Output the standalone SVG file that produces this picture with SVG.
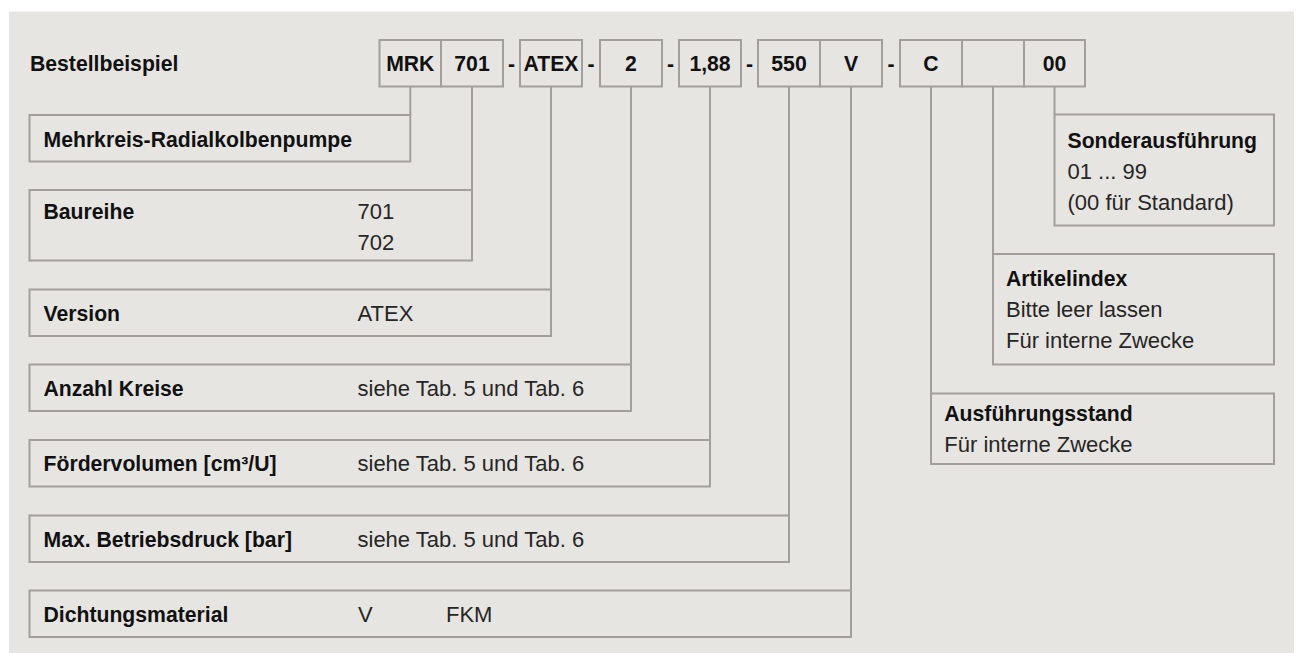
<svg xmlns="http://www.w3.org/2000/svg" width="1301" height="653" viewBox="0 0 1301 653">
<style>
.bx{fill:none;stroke:#a3a09b;stroke-width:2}
.ln{fill:none;stroke:#a3a09b;stroke-width:2}
.b{font-family:"Liberation Sans",Arial,sans-serif;font-weight:bold;font-size:21.2px;fill:#111111}
.r{font-family:"Liberation Sans",Arial,sans-serif;font-size:22px;fill:#262626}
.c{text-anchor:middle}
</style>
<rect x="0" y="0" width="1301" height="653" fill="#ffffff"/>
<rect x="9" y="11.5" width="1285" height="642" fill="#e7e5e1"/>

<g id="title"><text class="b" x="30" y="71">Bestellbeispiel</text></g>

<g id="code">
<rect class="bx" x="379.5" y="40" width="61.5" height="46.5"/>
<rect class="bx" x="441" y="40" width="62" height="46.5"/>
<rect class="bx" x="520" y="40" width="62" height="46.5"/>
<rect class="bx" x="600" y="40" width="62" height="46.5"/>
<rect class="bx" x="679" y="40" width="62" height="46.5"/>
<rect class="bx" x="758" y="40" width="62" height="46.5"/>
<rect class="bx" x="820" y="40" width="62" height="46.5"/>
<rect class="bx" x="900" y="40" width="62" height="46.5"/>
<rect class="bx" x="962" y="40" width="62" height="46.5"/>
<rect class="bx" x="1024" y="40" width="61" height="46.5"/>
<text class="b c" x="410.3" y="71">MRK</text>
<text class="b c" x="472" y="71">701</text>
<text class="b c" x="511.5" y="71">-</text>
<text class="b c" x="551" y="71">ATEX</text>
<text class="b c" x="591" y="71">-</text>
<text class="b c" x="631" y="71">2</text>
<text class="b c" x="670.5" y="71">-</text>
<text class="b c" x="710" y="71">1,88</text>
<text class="b c" x="749.5" y="71">-</text>
<text class="b c" x="789" y="71">550</text>
<text class="b c" x="851" y="71">V</text>
<text class="b c" x="891" y="71">-</text>
<text class="b c" x="931" y="71">C</text>
<text class="b c" x="1054.5" y="71">00</text>
</g>

<g id="connectors">
<line class="ln" x1="410.3" y1="86.5" x2="410.3" y2="115"/>
<line class="ln" x1="472" y1="86.5" x2="472" y2="190"/>
<line class="ln" x1="551" y1="86.5" x2="551" y2="289.5"/>
<line class="ln" x1="631" y1="86.5" x2="631" y2="364.5"/>
<line class="ln" x1="710" y1="86.5" x2="710" y2="440"/>
<line class="ln" x1="789" y1="86.5" x2="789" y2="515.5"/>
<line class="ln" x1="851" y1="86.5" x2="851" y2="590.5"/>
<line class="ln" x1="931" y1="86.5" x2="931" y2="393.5"/>
<line class="ln" x1="993" y1="86.5" x2="993" y2="254"/>
<line class="ln" x1="1054.5" y1="86.5" x2="1054.5" y2="114.5"/>
</g>

<g id="mehrkreis">
<rect class="bx" x="29.5" y="115" width="380.8" height="46.5"/>
<text class="b" x="43.5" y="146.7">Mehrkreis-Radialkolbenpumpe</text>
</g>
<g id="baureihe">
<rect class="bx" x="29.5" y="190" width="442.5" height="70.5"/>
<text class="b" x="43.5" y="219">Baureihe</text>
<text class="r" x="357.5" y="219">701</text>
<text class="r" x="357.5" y="250">702</text>
</g>
<g id="version">
<rect class="bx" x="29.5" y="289.5" width="521.5" height="46.5"/>
<text class="b" x="43.5" y="321.2">Version</text>
<text class="r" x="357.5" y="321.2">ATEX</text>
</g>
<g id="anzahl">
<rect class="bx" x="29.5" y="364.5" width="601.5" height="46.5"/>
<text class="b" x="43.5" y="396">Anzahl Kreise</text>
<text class="r" x="357.5" y="396">siehe Tab. 5 und Tab. 6</text>
</g>
<g id="foerdervolumen">
<rect class="bx" x="29.5" y="440" width="680.5" height="46.5"/>
<text class="b" x="43.5" y="471.3">Fördervolumen [cm³/U]</text>
<text class="r" x="357.5" y="471.3">siehe Tab. 5 und Tab. 6</text>
</g>
<g id="betriebsdruck">
<rect class="bx" x="29.5" y="515.5" width="759.5" height="46.5"/>
<text class="b" x="43.5" y="546.7">Max. Betriebsdruck [bar]</text>
<text class="r" x="357.5" y="546.7">siehe Tab. 5 und Tab. 6</text>
</g>
<g id="dichtung">
<rect class="bx" x="29.5" y="590.5" width="821.5" height="46.5"/>
<text class="b" x="43.5" y="622">Dichtungsmaterial</text>
<text class="r" x="358" y="622">V</text>
<text class="r" x="446" y="622">FKM</text>
</g>

<g id="sonderausfuehrung">
<rect class="bx" x="1054.5" y="114.5" width="219.5" height="111"/>
<text class="b" x="1067.5" y="147.7">Sonderausführung</text>
<text class="r" x="1067.5" y="179">01 ... 99</text>
<text class="r" x="1067.5" y="210">(00 für Standard)</text>
</g>
<g id="artikelindex">
<rect class="bx" x="993" y="254" width="281" height="110.5"/>
<text class="b" x="1006" y="286">Artikelindex</text>
<text class="r" x="1006" y="317.3">Bitte leer lassen</text>
<text class="r" x="1006" y="348.3">Für interne Zwecke</text>
</g>
<g id="ausfuehrungsstand">
<rect class="bx" x="931" y="393.5" width="343" height="70.5"/>
<text class="b" x="944.3" y="420.7">Ausführungsstand</text>
<text class="r" x="944.3" y="452.3">Für interne Zwecke</text>
</g>
</svg>
